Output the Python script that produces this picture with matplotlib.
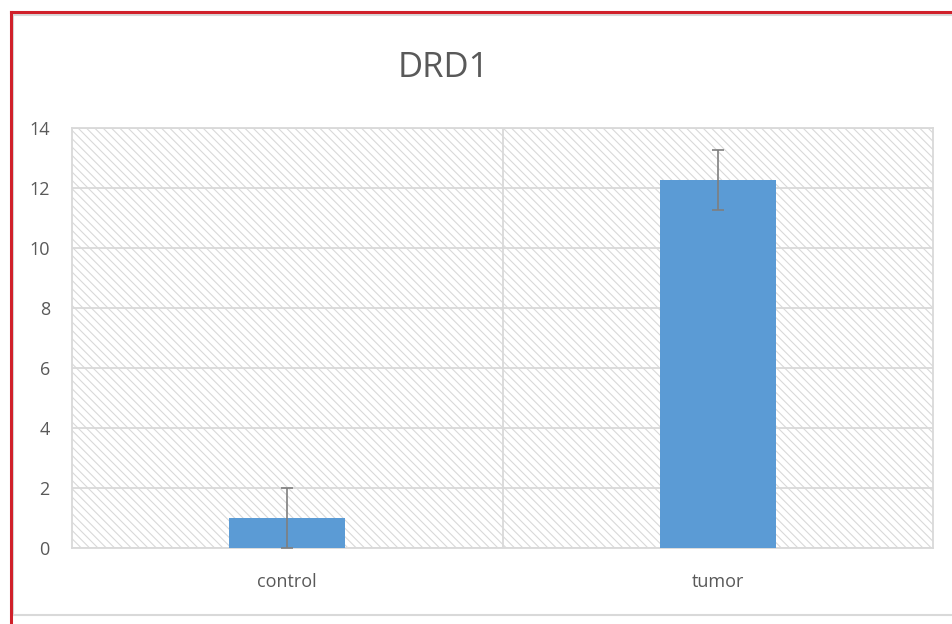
import matplotlib.pyplot as plt
from matplotlib.lines import Line2D

categories = ["control", "tumor"]
values = [1.0, 12.25]
errors = [1.0, 1.0]
yticks = [0, 2, 4, 6, 8, 10, 12, 14]

plt.rcParams['font.family'] = ['Open Sans', 'DejaVu Sans']
plt.rcParams['hatch.color'] = '#d9d9d9'
plt.rcParams['hatch.linewidth'] = 0.8

fig = plt.figure(figsize=(9.52, 6.24), dpi=100)
ax = fig.add_axes([72 / 952, 76 / 624, 861 / 952, 420 / 624])

# hatched plot area
ax.add_patch(plt.Rectangle((0, 0), 1, 1, transform=ax.transAxes, facecolor='white',
                           edgecolor='#d9d9d9', hatch='\\\\\\\\', linewidth=0, zorder=0))

x = list(range(len(categories)))
ax.bar(x, values, width=0.27, color='#5b9bd5', zorder=3)
ax.errorbar(x, values, yerr=errors, fmt='none', ecolor='#7f7f7f', elinewidth=1.2,
            capsize=4, capthick=1.2, zorder=4)

ax.set_xlim(-0.5, 1.5)
ax.set_ylim(0, 14)
ax.set_yticks(yticks)
ax.set_xticks(x)
ax.set_xticklabels(categories)
ax.tick_params(axis='both', length=0, labelsize=13, colors='#595959')
ax.tick_params(axis='y', pad=16)
ax.tick_params(axis='x', pad=18)

ax.grid(axis='y', color='#d9d9d9', linewidth=1.3, zorder=1)
ax.axvline(0.5, color='#d9d9d9', linewidth=1.3, zorder=1)
for s in ax.spines.values():
    s.set_color('#d9d9d9')
    s.set_linewidth(1.3)
ax.set_axisbelow(True)

fig.text(443 / 952, 1 - 68 / 624, "DRD1", ha='center', va='center', fontsize=25,
         color='#595959')

# chart frame
fig.add_artist(Line2D([13 / 952, 1], [1 - 15 / 624, 1 - 15 / 624], color='#d9d9d9', linewidth=1.5))
fig.add_artist(Line2D([13 / 952, 1], [1 - 615 / 624, 1 - 615 / 624], color='#d9d9d9', linewidth=1.5))
fig.add_artist(Line2D([13 / 952, 13 / 952], [1 - 615 / 624, 1 - 15 / 624], color='#d9d9d9', linewidth=1.5))
fig.add_artist(Line2D([10.5 / 952, 1], [1 - 11.5 / 624, 1 - 11.5 / 624], color='#d0202a', linewidth=2.2))
fig.add_artist(Line2D([10.5 / 952, 10.5 / 952], [0, 1 - 11.5 / 624], color='#d0202a', linewidth=2.2))

fig.savefig("out.png", dpi=100)
